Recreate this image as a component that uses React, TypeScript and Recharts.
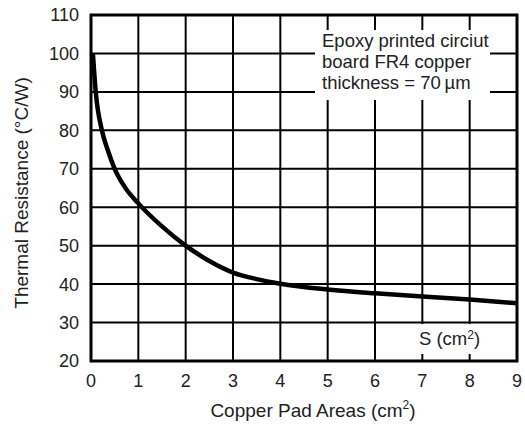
import React from 'react';
import { ComposedChart, Line, XAxis, YAxis, CartesianGrid, ReferenceArea } from 'recharts';

const padArea = [0.04, 0.1, 0.23, 0.35, 0.5, 0.7, 1, 1.5, 2, 2.5, 3, 3.5, 4, 5, 6, 7, 8, 9];
const resistance = [100, 90, 80, 75, 70, 65.5, 61, 55, 50, 46, 43, 41.3, 40.1, 38.6, 37.6, 36.8, 36, 35];
const xTicks = [0, 1, 2, 3, 4, 5, 6, 7, 8, 9];
const yTicks = [20, 30, 40, 50, 60, 70, 80, 90, 100, 110];

const FONT = '"Liberation Sans", Arial, Helvetica, sans-serif';

const data = padArea.map((x, i) => ({ x, r: resistance[i] }));

const XTitle = () => (
  <text x={313} y={417} textAnchor="middle" fontFamily={FONT} fontSize={19} fill="#222">
    Copper Pad Areas (cm<tspan dy={-8} fontSize={12}>2</tspan><tspan dy={8}>)</tspan>
  </text>
);

const YTitle = () => (
  <text
    x={0}
    y={0}
    transform="translate(28,193) rotate(-90)"
    textAnchor="middle"
    fontFamily={FONT}
    fontSize={19}
    fill="#222"
  >
    Thermal Resistance (°C/W)
  </text>
);

export default function App() {
  return (
    <div style={{ position: 'absolute', left: 0, top: 0, width: 525, height: 428, background: '#fff' }}>
      <ComposedChart
        width={525}
        height={428}
        data={data}
        margin={{ top: 15, right: 8, left: 51, bottom: 27 }}
      >
        <CartesianGrid stroke="#000" strokeWidth={2} />
        <XAxis
          type="number"
          dataKey="x"
          domain={[0, 9]}
          ticks={xTicks}
          tickSize={0}
          tickMargin={13}
          axisLine={false}
          height={40}
          tick={{ fill: '#222', fontSize: 18, fontFamily: FONT }}
        />
        <YAxis
          type="number"
          domain={[20, 110]}
          ticks={yTicks}
          tickSize={0}
          tickMargin={12}
          axisLine={false}
          width={40}
          tick={{ fill: '#222', fontSize: 18, fontFamily: FONT }}
        />
        <ReferenceArea x1={0} x2={9} y1={20} y2={110} fill="none" stroke="#000" strokeWidth={3} ifOverflow="visible" />
        <Line
          type="monotone"
          dataKey="r"
          stroke="#000"
          strokeWidth={4.5}
          dot={false}
          isAnimationActive={false}
        />
        <XTitle />
        <YTitle />
      </ComposedChart>
      <div
        style={{
          position: 'absolute',
          left: 315,
          top: 30,
          width: 175,
          height: 70,
          background: '#fff',
          fontFamily: FONT,
          fontSize: 18.5,
          lineHeight: '21px',
          color: '#222',
          paddingLeft: 7,
          boxSizing: 'border-box',
          paddingTop: 0,
          whiteSpace: 'nowrap',
        }}
      >
        Epoxy printed circiut
        <br />
        board FR4 copper
        <br />
        thickness = 70{'\u2009'}µm
      </div>
      <div
        style={{
          position: 'absolute',
          left: 402,
          top: 324,
          width: 108,
          height: 30,
          background: '#fff',
          fontFamily: FONT,
          fontSize: 18.5,
          lineHeight: '30px',
          color: '#222',
          textAlign: 'center',
          paddingRight: 13,
          boxSizing: 'border-box',
          whiteSpace: 'nowrap',
        }}
      >
        S (cm<sup style={{ fontSize: 12, verticalAlign: 'top', lineHeight: '22px' }}>2</sup>)
      </div>
    </div>
  );
}
